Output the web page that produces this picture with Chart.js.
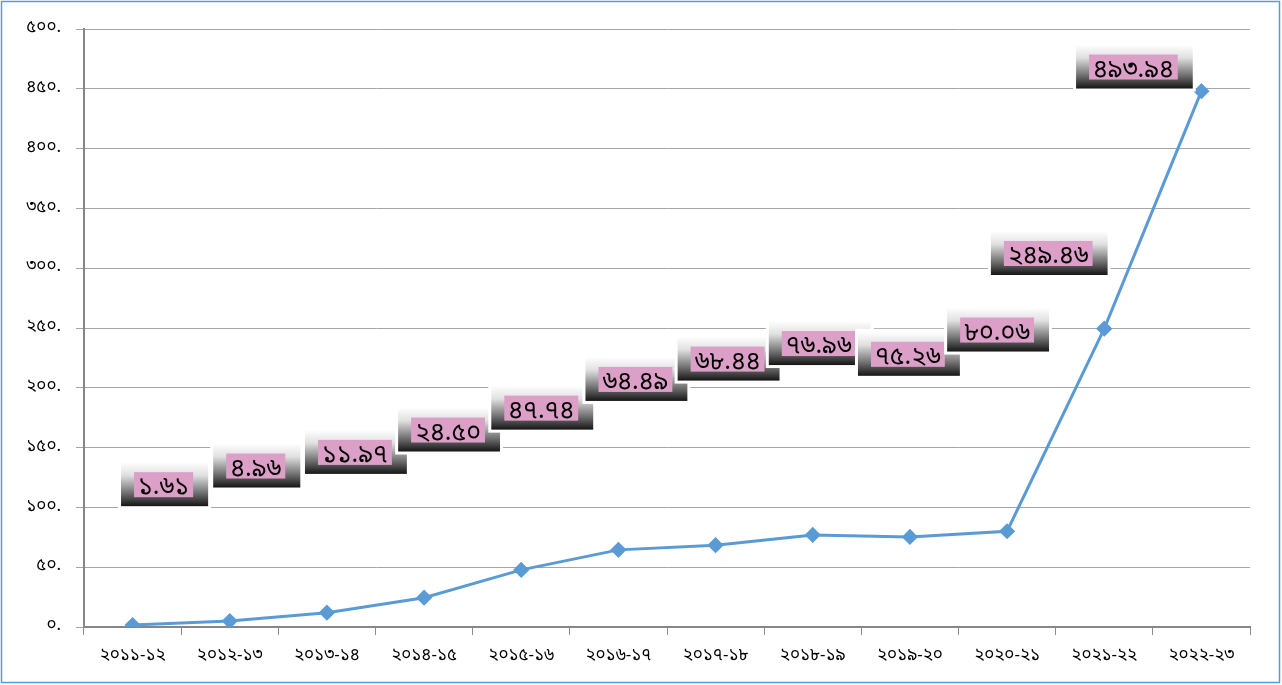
<!DOCTYPE html>
<html>
<head>
<meta charset="utf-8">
<script src="https://cdn.jsdelivr.net/npm/chart.js@4.4.1/dist/chart.umd.min.js"></script>
<style>
  html, body { margin: 0; padding: 0; background: #fff; }
  #wrap { position: relative; width: 1282px; height: 685px; }
</style>
</head>
<body>
<div id="wrap"><canvas id="chart" width="1282" height="685"></canvas></div>
<script>
// categories (fiscal years)
const years = ['২০১১-১২', '২০১২-১৩', '২০১৩-১৪', '২০১৪-১৫', '২০১৫-১৬', '২০১৬-১৭',
  '২০১৭-১৮', '২০১৮-১৯', '২০১৯-২০', '২০২০-২১', '২০২১-২২', '২০২২-২৩'];

// plotted values
const values = [1.61, 4.96, 11.97, 24.50, 47.74, 64.49, 68.44, 76.96, 75.26, 80.06, 249.46, 448];

// data label texts as printed on the chart
const labelTexts = ['১.৬১', '৪.৯৬', '১১.৯৭', '২৪.৫০', '৪৭.৭৪', '৬৪.৪৯', '৬৮.৪৪', '৭৬.৯৬',
  '৭৫.২৬', '৮০.০৬', '২৪৯.৪৬', '৪৯৩.৯৪'];

// y axis tick labels (0..500 step 50)
const yTickLabels = ['০.', '৫০.', '১০০.', '১৫০.', '২০০.', '২৫০.', '৩০০.', '৩৫০.', '৪০০.', '৪৫০.', '৫০০.'];

// where each data label box sits: x shift from its point (px), y in axis units
const labelShiftX = [31, 26, 28, 24, 20, 17, 12, 6, -2, -10, -56, -68];
const labelAtY = [119, 134.6, 146, 164.7, 183, 207, 224, 237, 228, 248.3, 312.3, 468.2];

const FONT = "'Noto Sans Bengali', 'Vrinda', 'Lohit Bengali', 'DejaVu Sans', sans-serif";

const frame = {
  id: 'frame',
  afterDraw(chart) {
    const ctx = chart.ctx;
    ctx.save();
    ctx.strokeStyle = '#5b9bd5';
    ctx.lineWidth = 1.5;
    ctx.strokeRect(1.5, 1.5, 1278, 681);
    ctx.restore();
  }
};

const boxLabels = {
  id: 'boxLabels',
  afterDatasetsDraw(chart) {
    const ctx = chart.ctx;
    const meta = chart.getDatasetMeta(0);
    const yScale = chart.scales.y;
    ctx.save();
    ctx.font = '25px ' + FONT;
    meta.data.forEach((pt, i) => {
      const cx = pt.x + labelShiftX[i];
      const cy = yScale.getPixelForValue(labelAtY[i]);
      const tw = ctx.measureText(labelTexts[i]).width;
      const pw = tw + 8, ph = 25;
      const px = cx - pw / 2, py = cy - ph / 2;
      const gx = px - 13, gy = py - 10, gw = pw + 28, gh = ph + 19;
      // white margin around box
      ctx.fillStyle = '#fff';
      ctx.fillRect(gx - 3, gy - 3, gw + 6, gh + 6);
      const grad = ctx.createLinearGradient(0, gy, 0, gy + gh);
      grad.addColorStop(0, '#ffffff');
      grad.addColorStop(0.3, '#e0e0e0');
      grad.addColorStop(0.7, '#707070');
      grad.addColorStop(1, '#151515');
      ctx.fillStyle = grad;
      ctx.fillRect(gx, gy, gw, gh);
      ctx.fillStyle = '#dc9fc8';
      ctx.fillRect(px, py, pw, ph);
      ctx.fillStyle = '#000';
      ctx.textAlign = 'center';
      ctx.textBaseline = 'middle';
      ctx.fillText(labelTexts[i], cx, cy + 5);
    });
    ctx.restore();
  }
};

new Chart(document.getElementById('chart'), {
  type: 'line',
  data: {
    labels: years,
    datasets: [{
      data: values,
      borderColor: '#5b9bd5',
      backgroundColor: '#5b9bd5',
      borderWidth: 3,
      pointStyle: 'rectRot',
      pointRadius: 6,
      pointHoverRadius: 6,
      tension: 0
    }]
  },
  options: {
    responsive: false,
    animation: false,
    layout: { padding: { top: 29, right: 32, left: 0, bottom: 0 } },
    plugins: { legend: { display: false }, tooltip: { enabled: false } },
    scales: {
      x: {
        offset: true,
        grid: {
          offset: true,
          drawOnChartArea: false,
          tickLength: 8,
          color: '#8c8c8c',
          lineWidth: 1
        },
        border: { color: '#868686', width: 2 },
        ticks: {
          color: '#000',
          padding: 12,
          maxRotation: 0,
          font: { family: FONT, size: 17 }
        },
        afterFit(s) { s.height = 58; }
      },
      y: {
        min: 0,
        max: 500,
        grid: { color: '#a6a6a6', lineWidth: 1, tickLength: 8 },
        border: { color: '#868686', width: 2 },
        ticks: {
          stepSize: 50,
          color: '#000',
          padding: 15,
          font: { family: FONT, size: 17 },
          callback: (v, i) => yTickLabels[i]
        },
        afterFit(s) { s.width = 84; }
      }
    }
  },
  plugins: [boxLabels, frame]
});
</script>
</body>
</html>
